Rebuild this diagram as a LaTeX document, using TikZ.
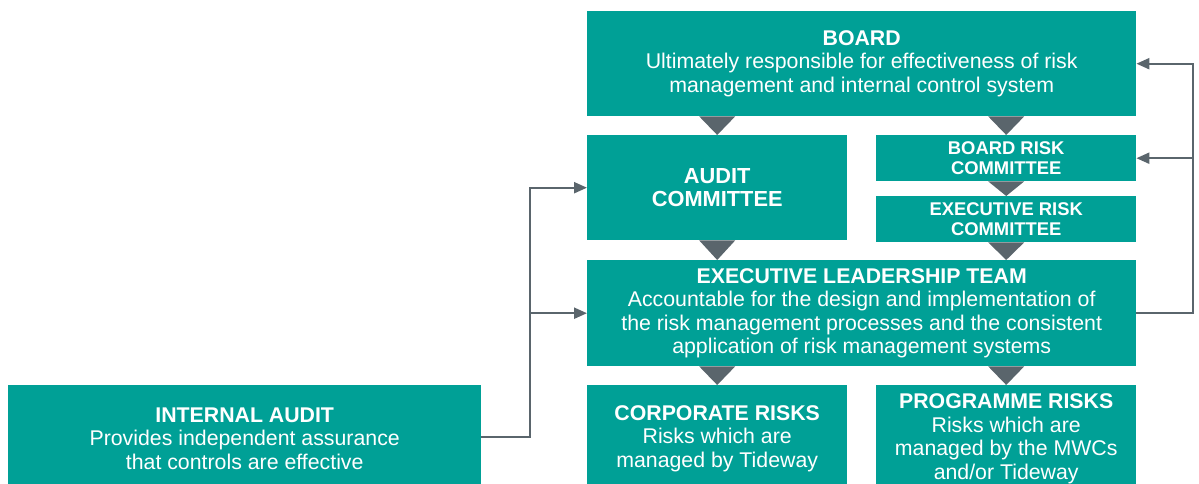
\documentclass[tikz,border=0pt]{standalone}
\usepackage{fontspec}
\setmainfont{Liberation Sans}
\usetikzlibrary{arrows.meta,positioning,calc}

\definecolor{tidegreen}{HTML}{00A096}
\definecolor{slategrey}{HTML}{5A656C}

\tikzset{
    box/.style={fill=tidegreen, text=white, inner sep=0pt, align=center,
        anchor=north west, font=\fontsize{21.3}{23.5}\selectfont},
    smallbox/.style={box, font=\bfseries\fontsize{18.4}{20}\selectfont},
    link/.style={draw=slategrey, line width=2.2pt,
        -{Triangle[length=13pt,width=11pt]}}
}

% downward pointer from #1 to #2, lined up under node #3
\newcommand{\pointer}[3]{%
    \fill[slategrey] ($(#3.center |- #1.south)+(-18,0)$)
        -- ($(#3.center |- #1.south)+(18,0)$) -- (#3.center |- #2.north) -- cycle;}

\begin{document}
\begin{tikzpicture}[x=1pt,y=-1pt]
    \useasboundingbox (0,0) rectangle (1199,484);

    \node[box, minimum width=549pt, minimum height=105pt] (board) at (587,11)
        {\textbf{BOARD}\\Ultimately responsible for effectiveness of risk\\
         management and internal control system};
    \node[box, minimum width=260pt, minimum height=105pt,
        font=\bfseries\fontsize{21.8}{23.5}\selectfont] (audit) at (587,135)
        {AUDIT\\COMMITTEE};
    \node[smallbox, minimum width=260pt, minimum height=46pt] (brc) at (876,135)
        {BOARD RISK\\COMMITTEE};
    \node[smallbox, minimum width=260pt, minimum height=46pt] (erc) at (876,196)
        {EXECUTIVE RISK\\COMMITTEE};
    \node[box, minimum width=549pt, minimum height=106pt] (elt) at (587,260)
        {\textbf{EXECUTIVE LEADERSHIP TEAM}\\
         Accountable for the design and implementation of\\
         the risk management processes and the consistent\\
         application of risk management systems};
    % bottom row runs on past the lower edge
    \node[box, minimum width=260pt, minimum height=107pt] (corp) at (587,385)
        {\textbf{CORPORATE RISKS}\\Risks which are\\managed by Tideway};
    \node[box, minimum width=260pt, minimum height=107pt] (prog) at (876,385)
        {\textbf{PROGRAMME RISKS}\\Risks which are\\managed by the MWCs\\and/or Tideway};
    \node[box, minimum width=473pt, minimum height=107pt] (intaudit) at (8,385)
        {\textbf{INTERNAL AUDIT}\\Provides independent assurance\\that controls are effective};

    \pointer{board}{audit}{audit}
    \pointer{board}{brc}{brc}
    \pointer{brc}{erc}{erc}
    \pointer{erc}{elt}{erc}
    \pointer{audit}{elt}{audit}
    \pointer{elt}{corp}{corp}
    \pointer{elt}{prog}{prog}

    % internal audit reports up to the committee and the leadership team
    \coordinate (leftbus) at (530,0);
    \draw[link] (intaudit.east |- 0,437) -| (leftbus |- audit.west) -- (audit.west);
    \draw[link] (leftbus |- elt.west) -- (elt.west);

    % leadership team feeds back to the board and its risk committee
    \coordinate (rightbus) at (1193,0);
    \draw[link] (elt.east) -| (rightbus |- board.east) -- (board.east);
    \draw[link] (rightbus |- brc.east) -- (brc.east);
\end{tikzpicture}
\end{document}
